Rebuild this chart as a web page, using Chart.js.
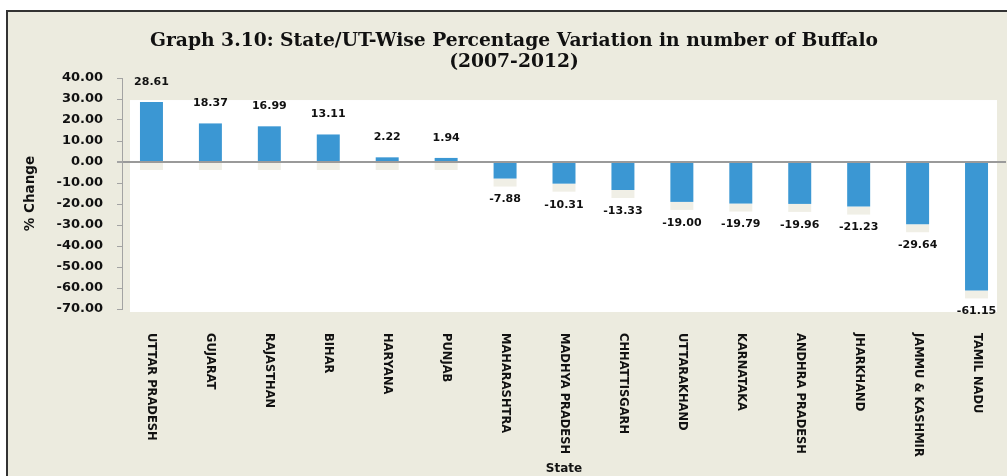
<!DOCTYPE html>
<html>
<head>
<meta charset="utf-8">
<script src="https://cdn.jsdelivr.net/npm/chart.js@4.4.1/dist/chart.umd.min.js"></script>
<style>
html,body{margin:0;padding:0;background:#ffffff;}
#wrap{width:1007px;height:476px;position:relative;}
</style>
</head>
<body>
<div id="wrap"><canvas id="c" width="1007" height="476"></canvas></div>
<script>
const categories = ["UTTAR PRADESH","GUJARAT","RAJASTHAN","BIHAR","HARYANA","PUNJAB","MAHARASHTRA","MADHYA PRADESH","CHHATTISGARH","UTTARAKHAND","KARNATAKA","ANDHRA PRADESH","JHARKHAND","JAMMU & KASHMIR","TAMIL NADU"];
const changeValues = [28.61,18.37,16.99,13.11,2.22,1.94,-7.88,-10.31,-13.33,-19.00,-19.79,-19.96,-21.23,-29.64,-61.15];
const titleLines = ["Graph 3.10: State/UT-Wise Percentage Variation in number of Buffalo","(2007-2012)"];
const yTitle = "% Change";
const xTitle = "State";
const yMin = -70, yMax = 40, yStep = 10;

const BEIGE = '#ecebdf';
const BLUE = '#3b97d3';
const AXIS = '#a3a3a3';

const decor = {
  id:'decor',
  beforeDraw(chart){
    const ctx = chart.ctx, ca = chart.chartArea, y = chart.scales.y;
    ctx.save();
    ctx.fillStyle = '#ffffff';
    ctx.fillRect(0,0,chart.width,chart.height);
    ctx.fillStyle = BEIGE;
    ctx.fillRect(7,11,chart.width-7,chart.height-11);
    ctx.strokeStyle = '#333333';
    ctx.lineWidth = 2;
    ctx.beginPath();
    ctx.moveTo(7,chart.height); ctx.lineTo(7,11); ctx.lineTo(chart.width,11);
    ctx.stroke();
    // white plot panel
    ctx.fillStyle = '#ffffff';
    const top = y.getPixelForValue(29.5);
    ctx.fillRect(ca.left+8, top, 997-(ca.left+8), ca.bottom+3-top);
    // faint shadow patches
    const meta = chart.getDatasetMeta(0);
    const zero = y.getPixelForValue(0);
    ctx.fillStyle = '#f0efe6';
    meta.data.forEach((bar,i)=>{
      const w = bar.width;
      const v = changeValues[i];
      if (v >= 0) ctx.fillRect(bar.x-w/2, zero, w, 8);
      else ctx.fillRect(bar.x-w/2, bar.y, w, 8);
    });
    ctx.restore();
  },
  afterDraw(chart){
    const ctx = chart.ctx, ca = chart.chartArea, x = chart.scales.x, y = chart.scales.y;
    ctx.save();
    // title
    ctx.fillStyle = '#111111';
    ctx.textAlign = 'center';
    ctx.textBaseline = 'alphabetic';
    ctx.font = 'bold 18px "DejaVu Serif"';
    const w1 = ctx.measureText(titleLines[0]).width;
    const sx = 728 / w1;
    ctx.save(); ctx.translate(514,46); ctx.scale(sx,1.05); ctx.fillText(titleLines[0],0,0); ctx.restore();
    ctx.save(); ctx.translate(514,67); ctx.scale(sx,1.05); ctx.fillText(titleLines[1],0,0); ctx.restore();
    // data labels
    const meta = chart.getDatasetMeta(0);
    ctx.font = 'bold 11px "DejaVu Sans"';
    ctx.textBaseline = 'middle';
    ctx.fillStyle = '#111111';
    meta.data.forEach((bar,i)=>{
      const v = changeValues[i];
      const ly = v >= 0 ? bar.y - 20 : bar.y + 21;
      ctx.fillText(v.toFixed(2), bar.x, ly);
    });
    // x category labels (rotated clockwise)
    ctx.font = 'bold 11.5px "DejaVu Sans"';
    ctx.textAlign = 'left';
    categories.forEach((c,i)=>{
      const px = x.getPixelForValue(i);
      ctx.save();
      ctx.translate(px, 333);
      ctx.rotate(Math.PI/2);
      ctx.fillText(c, 0, 0);
      ctx.restore();
    });
    // axis titles
    ctx.textAlign = 'center';
    ctx.font = 'bold 12px "DejaVu Sans"';
    ctx.fillText(xTitle, (ca.left+ca.right)/2, 469);
    ctx.font = 'bold 13.5px "DejaVu Sans"';
    ctx.save();
    ctx.translate(30,(ca.top+ca.bottom)/2);
    ctx.rotate(-Math.PI/2);
    ctx.fillText(yTitle,0,0);
    ctx.restore();
    ctx.restore();
  }
};

new Chart(document.getElementById('c'), {
  type:'bar',
  data:{
    labels:categories,
    datasets:[{data:changeValues, backgroundColor:BLUE, borderWidth:0, barPercentage:0.39, categoryPercentage:1.0}]
  },
  options:{
    responsive:false,
    animation:false,
    devicePixelRatio:1,
    layout:{padding:{top:78,bottom:167,left:0,right:1}},
    plugins:{legend:{display:false},tooltip:{enabled:false},title:{display:false}},
    scales:{
      x:{
        ticks:{display:false},
        grid:{display:false},
        border:{display:false},
        afterFit(s){ s.height = 0; }
      },
      y:{
        min:yMin, max:yMax,
        ticks:{stepSize:yStep, padding:14, color:'#111111', font:{family:'"DejaVu Sans"', weight:'bold', size:13},
          callback:(v)=>Number(v).toFixed(2)},
        grid:{color:(c)=> (c.tick && c.tick.value===0) ? '#9a9a9a' : 'rgba(0,0,0,0)', lineWidth:(c)=> (c.tick && c.tick.value===0) ? 2 : 1, tickColor:AXIS, tickLength:5, drawTicks:true},
        border:{display:true, color:AXIS, width:1},
        afterFit(s){ s.width = 122; }
      }
    }
  },
  plugins:[decor]
});
</script>
</body>
</html>
